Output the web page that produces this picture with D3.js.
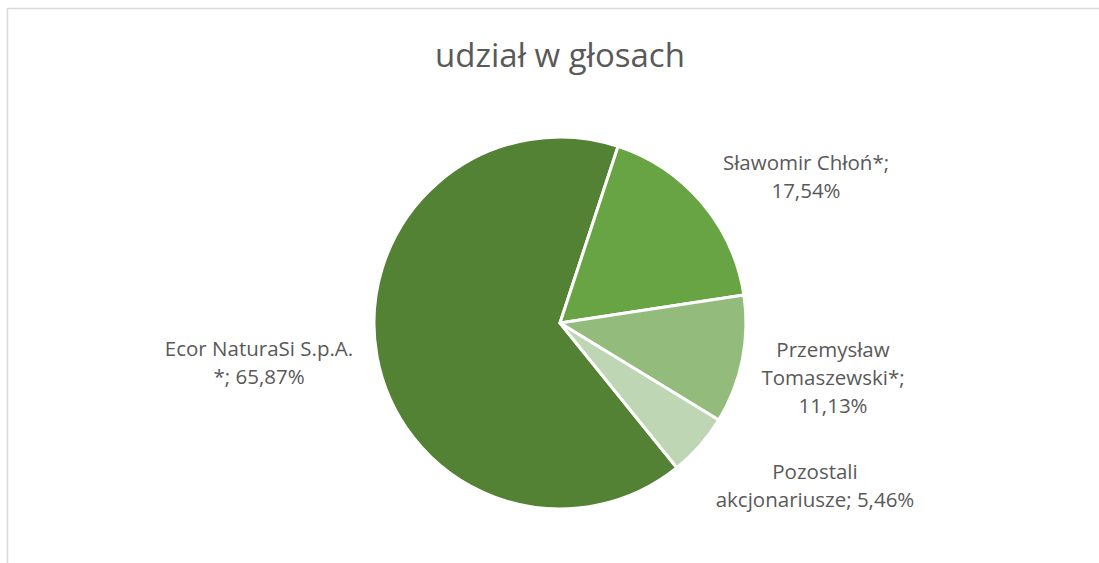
<!DOCTYPE html>
<html>
<head>
<meta charset="utf-8">
<script src="https://cdn.jsdelivr.net/npm/d3@7"></script>
<style>
  html, body { margin: 0; padding: 0; background: #fff; }
  svg { display: block; }
  text { font-family: "Open Sans", Lato, sans-serif; fill: #595959; }
</style>
</head>
<body>
<div id="chart"></div>
<script>
// Data
const names = ["Ecor NaturaSi S.p.A. *", "Sławomir Chłoń*", "Przemysław Tomaszewski*", "Pozostali akcjonariusze"];
const shares = [65.87, 17.54, 11.13, 5.46];
const labelLines = [
    ["Ecor NaturaSi S.p.A.", "*; 65,87%"],
    ["Sławomir Chłoń*;", "17,54%"],
    ["Przemysław", "Tomaszewski*;", "11,13%"],
    ["Pozostali", "akcjonariusze; 5,46%"]
];
const colors = ["#548235", "#68a444", "#93bb7b", "#bed6b3"];

const width = 1099;
const height = 563;
const cx = 560, cy = 323, radius = 186;

// label anchor (centre of first line) relative to pie centre
const labelOffsets = [[-301, 26], [246, -160], [273, 27], [255, 149]];
const lineHeight = 28;

const svg = d3.select("#chart")
    .append("svg")
    .attr("width", width)
    .attr("height", height);

// chart frame
svg.append("rect")
    .attr("x", 7.5)
    .attr("y", 8.5)
    .attr("width", width + 10)
    .attr("height", height + 10)
    .attr("fill", "none")
    .attr("stroke", "#d9d9d9")
    .attr("stroke-width", 1.5);

// Title
svg.append("text")
    .attr("x", cx)
    .attr("y", 67)
    .attr("text-anchor", "middle")
    .style("font-size", "33px")
    .text("udział w głosach");

// Pie: Ecor starts after the other slices, so start angle puts Sławomir at ~18deg
const startAngle = (18.2 - 360 * shares[0] / 100) * Math.PI / 180;
const pie = d3.pie()
    .sort(null)
    .startAngle(startAngle)
    .endAngle(startAngle + 2 * Math.PI);

const arc = d3.arc().innerRadius(0).outerRadius(radius);

const g = svg.append("g").attr("transform", `translate(${cx},${cy})`);

g.selectAll("path")
    .data(pie(shares))
    .enter()
    .append("path")
    .attr("d", arc)
    .attr("fill", (d, i) => colors[i])
    .attr("stroke", "#fff")
    .attr("stroke-width", 3)
    .attr("stroke-linejoin", "round");

// Labels
labelLines.forEach((lines, i) => {
    const t = g.append("text")
        .attr("text-anchor", "middle")
        .style("font-size", "20.5px");
    lines.forEach((line, j) => {
        t.append("tspan")
            .attr("x", labelOffsets[i][0])
            .attr("y", labelOffsets[i][1] + j * lineHeight)
            .attr("dy", "0.35em")
            .text(line);
    });
});
</script>
</body>
</html>
